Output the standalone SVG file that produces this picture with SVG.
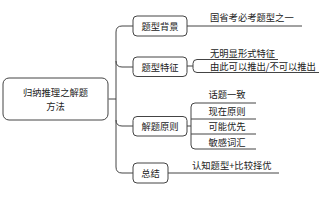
<svg xmlns="http://www.w3.org/2000/svg" width="319" height="200" viewBox="0 0 319 200">
<style>
.box{fill:#fff;stroke:#444;stroke-width:1}
.ln{fill:none;stroke:#444;stroke-width:1}
text{font-family:"Noto Sans CJK SC","Noto Sans",sans-serif;font-size:9.3px;fill:#222;dominant-baseline:central}
.c{text-anchor:middle}
</style>
<rect width="319" height="200" fill="#fff"/>
<g id="connectors">
<path class="ln" d="M108.5,99 H116"/>
<path class="ln" d="M133,26 H122 Q116,26 116,32 V167 Q116,173 122,173 H133"/>
<path class="ln" d="M116,61 Q116,67 122,67 H133"/>
<path class="ln" d="M116,120 Q116,126 122,126 H133"/>
<path class="ln" d="M187,26 H302"/>
<path class="ln" d="M187,66 H193"/>
<path class="ln" d="M278,59.5 H197 Q193,59.5 193,63.5 V68.5 Q193,72.5 197,72.5 H319"/>
<path class="ln" d="M187,126 H191"/>
<path class="ln" d="M256,103 H195 Q191,103 191,107 V145 Q191,149 195,149 H256"/>
<path class="ln" d="M191,119 H256 M191,134 H256"/>
<path class="ln" d="M168,173 H279"/>
</g>
<g id="root">
<rect class="box" x="3" y="78" width="105" height="42" rx="6"/>
<text class="c" x="55.5" y="92.2">归纳推理之解题</text>
<text class="c" x="55.5" y="105.8">方法</text>
</g>
<g id="n1">
<rect class="box" x="133" y="16" width="54" height="20" rx="4"/>
<text class="c" x="160" y="26">题型背景</text>
</g>
<g id="n1a"><text x="210" y="17">国省考必考题型之一</text></g>
<g id="n2">
<rect class="box" x="133" y="57" width="54" height="19.5" rx="4"/>
<text class="c" x="160" y="66.5">题型特征</text>
</g>
<g id="n2a"><text x="210" y="52.5">无明显形式特征</text></g>
<g id="n2b"><text x="210" y="65.5">由此可以推出/不可以推出</text></g>
<g id="n3">
<rect class="box" x="133" y="116.5" width="54" height="19.5" rx="4"/>
<text class="c" x="160" y="126">解题原则</text>
</g>
<g id="n3a"><text class="c" x="227" y="94">话题一致</text></g>
<g id="n3b"><text class="c" x="227" y="110.5">现在原则</text></g>
<g id="n3c"><text class="c" x="227" y="126">可能优先</text></g>
<g id="n3d"><text class="c" x="227" y="141.5">敏感词汇</text></g>
<g id="n4">
<rect class="box" x="133" y="163" width="35" height="20" rx="4"/>
<text class="c" x="150.5" y="173">总结</text>
</g>
<g id="n4a"><text x="192" y="165">认知题型+比较择优</text></g>
</svg>
